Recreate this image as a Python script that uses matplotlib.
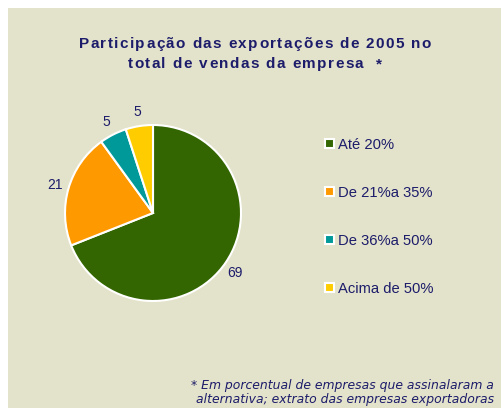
import matplotlib
matplotlib.use("Agg")
import matplotlib.pyplot as plt
from matplotlib.patches import Rectangle

categories = ["Até 20%", "De 21%a 35%", "De 36%a 50%", "Acima de 50%"]
values = [69, 21, 5, 5]
colors = ["#336600", "#FF9900", "#009999", "#FFCC00"]

title_lines = ["Participação das exportações de 2005 no",
               "total de vendas da empresa  *"]
note_lines = ["* Em porcentual de empresas que assinalaram a",
              "alternativa; extrato das empresas exportadoras"]

navy = "#1C1C6B"
W, H = 502, 408

fig = plt.figure(figsize=(W / 100, H / 100), dpi=100, facecolor="white")
fig.patches.append(Rectangle((8 / W, 0), 1 - 8 / W, 1 - 8 / H, transform=fig.transFigure,
                             facecolor="#E3E2CA", edgecolor="none", zorder=-10))

# pie axes: centre (153, 213) px, radius 88 px
r = 88
half = 1.25 * r
ax = fig.add_axes([(153 - half) / W, (H - 213 - half) / H, 2 * half / W, 2 * half / H])
wedges, texts = ax.pie(values, colors=colors, startangle=90, counterclock=False,
                       labels=[str(v) for v in values], labeldistance=1.16,
                       wedgeprops=dict(edgecolor="white", linewidth=1.5),
                       textprops=dict(color=navy, fontsize=10, family="Liberation Sans"))
for t in texts:
    t.set_ha("center")
    t.set_va("center")
texts[0].set_position((0.93, -0.68))
ax.set_xlim(-1.25, 1.25)
ax.set_ylim(-1.25, 1.25)
ax.set_aspect("equal")

leg = ax.legend(wedges, categories, loc="upper left", bbox_to_anchor=(325 / W, 1 - 138 / H),
                bbox_transform=fig.transFigure, frameon=False, handlelength=0.6, handleheight=0.6,
                handletextpad=0.3, labelspacing=2.3, borderpad=0, borderaxespad=0,
                prop=dict(family="Liberation Sans", size=10.6))
for t in leg.get_texts():
    t.set_color(navy)

# title with extra letter spacing
renderer = fig.canvas.get_renderer()
fp = dict(family="Liberation Sans", weight="bold", size=11)


def advance(s):
    t1 = fig.text(0, 0, s + "l", **fp)
    t2 = fig.text(0, 0, "l", **fp)
    w = t1.get_window_extent(renderer).width - t2.get_window_extent(renderer).width
    t1.remove()
    t2.remove()
    return w


def tracked(s, xc, y, track):
    total = advance(s) + track * (len(s) - 1)
    x0 = xc - total / 2
    for i, ch in enumerate(s):
        if ch == " ":
            continue
        x = x0 + advance(s[:i]) + track * i
        fig.text(x / W, 1 - y / H, ch, color=navy, ha="left", va="center", **fp)


tracked(title_lines[0], 255, 44, 1.4)
tracked(title_lines[1], 255, 64, 1.4)

for i, line in enumerate(note_lines):
    fig.text(494 / W, 1 - (385 + 15 * i) / H, line, ha="right", va="center",
             color=navy, style="italic", family="DejaVu Sans", fontsize=8.9)

fig.savefig("out.png", dpi=100, facecolor=fig.get_facecolor())
